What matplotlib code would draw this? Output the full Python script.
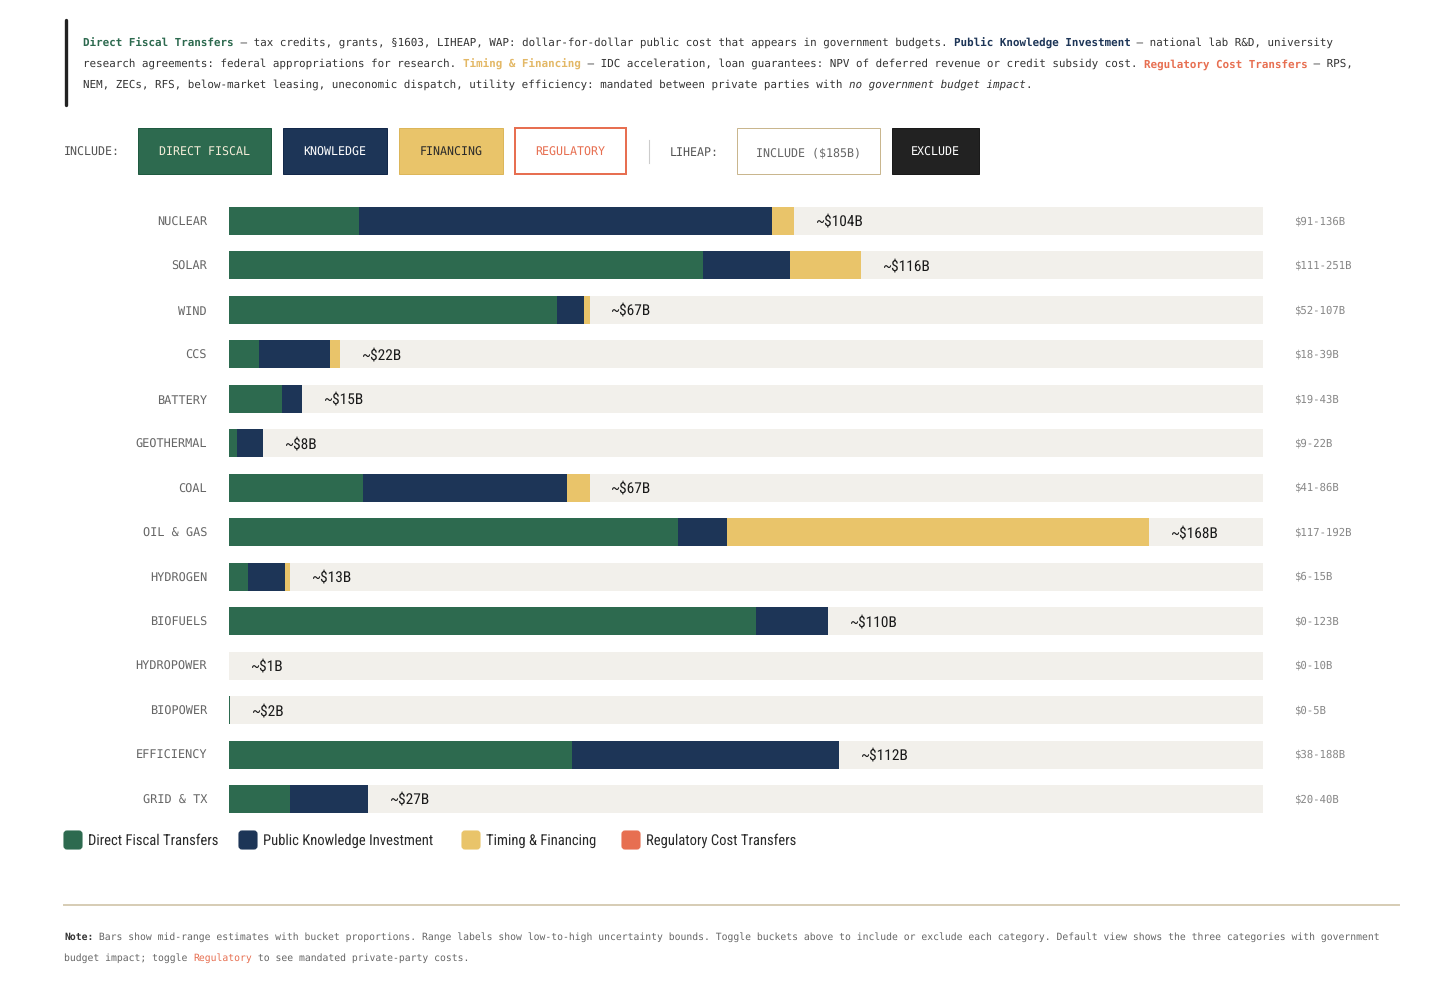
import matplotlib
matplotlib.use("Agg")
import matplotlib.pyplot as plt
from matplotlib import font_manager
from matplotlib.font_manager import FontProperties
from matplotlib.transforms import Affine2D, blended_transform_factory
from matplotlib.patches import Rectangle, FancyBboxPatch
from matplotlib.lines import Line2D

plt.rcParams['text.parse_math'] = False
plt.rcParams['text.hinting'] = 'no_hinting'

# ---------------- data ----------------
categories = ["NUCLEAR", "SOLAR", "WIND", "CCS", "BATTERY", "GEOTHERMAL", "COAL",
              "OIL & GAS", "HYDROGEN", "BIOFUELS", "HYDROPOWER", "BIOPOWER",
              "EFFICIENCY", "GRID & TX"]
direct_fiscal = [25.4, 87.4, 61.1, 7.3, 11.5, 3.4, 26.1, 83.0, 5.3, 97.1, 1.0, 2.0, 63.8, 13.0]
knowledge     = [74.6, 15.8, 4.9, 12.8, 3.5, 4.6, 36.8, 8.8, 6.7, 12.9, 0.0, 0.0, 48.2, 14.0]
financing     = [4.0, 12.8, 1.0, 1.9, 0.0, 0.0, 4.1, 76.2, 1.0, 0.0, 0.0, 0.0, 0.0, 0.0]
range_labels = ["$91-136B", "$111-251B", "$52-107B", "$18-39B", "$19-43B", "$9-22B",
                "$41-86B", "$117-192B", "$6-15B", "$0-123B", "$0-10B", "$0-5B",
                "$38-188B", "$20-40B"]
bucket_names = ["Direct Fiscal Transfers", "Public Knowledge Investment",
                "Timing & Financing", "Regulatory Cost Transfers"]

GREEN, NAVY, YELLOW, ORANGE = "#2d6a4f", "#1d3557", "#e9c46a", "#e76f51"
TRACK = "#f2f0eb"

# ---------------- fonts ----------------
names = {f.name for f in font_manager.fontManager.ttflist}
COND = None
for cand in ["Liberation Sans Narrow", "Roboto Condensed", "Open Sans Condensed", "Roboto"]:
    if cand in names:
        COND = cand
        break
if COND is None:
    COND = "DejaVu Sans"
MONO = "DejaVu Sans Mono"

W, H, DPI = 1456, 990, 100
fig = plt.figure(figsize=(W / DPI, H / DPI), dpi=DPI, facecolor="white")
P = Affine2D().scale(1 / DPI, -1 / DPI).translate(0, H / DPI) + fig.dpi_scale_trans
renderer = fig.canvas.get_renderer()


def mono_adv(size, weight="normal"):
    fp = FontProperties(family=MONO, size=size, weight=weight)
    w1 = renderer.get_text_width_height_descent("M" * 100, fp, ismath=False)[0]
    w2 = renderer.get_text_width_height_descent("M" * 200, fp, ismath=False)[0]
    return (w2 - w1) / 100.0


def pick_size(target_adv, lo, hi):
    best, bd = lo, 1e9
    s = lo
    while s <= hi + 1e-9:
        d = abs(mono_adv(s) - target_adv)
        if d < bd:
            best, bd = s, d
        s += 0.02
    return best


def runs(x, y, parts, size):
    adv = mono_adv(size)
    base = y + 0.36 * size * DPI / 72.0
    for text, color, weight, style in parts:
        dy = 0.8 if weight == "bold" else 0.0
        fig.text(x, base + dy, text, transform=P, fontsize=size, color=color, weight=weight,
                 style=style, family=MONO, va="baseline", ha="left")
        x += len(text) * adv


# ---------------- header ----------------
fig.add_artist(Line2D([66, 66], [20, 105], transform=P, color="#222222", lw=2.4,
                      solid_capstyle="round"))
HS = pick_size(6.54, 7.4, 8.5)
BODY = "#333333"
runs(83, 42, [
    ("Direct Fiscal Transfers", GREEN, "bold", "normal"),
    (" — tax credits, grants, §1603, LIHEAP, WAP: dollar-for-dollar public cost that appears in government budgets. ", BODY, "normal", "normal"),
    ("Public Knowledge Investment", NAVY, "bold", "normal"),
    (" — national lab R&D, university", BODY, "normal", "normal"),
], HS)
runs(83, 63, [
    ("research agreements: federal appropriations for research. ", BODY, "normal", "normal"),
    ("Timing & Financing", "#e3b866", "bold", "normal"),
    (" — IDC acceleration, loan guarantees: NPV of deferred revenue or credit subsidy cost. ", BODY, "normal", "normal"),
    ("Regulatory Cost Transfers", ORANGE, "bold", "normal"),
    (" — RPS,", BODY, "normal", "normal"),
], HS)
runs(83, 84, [
    ("NEM, ZECs, RFS, below-market leasing, uneconomic dispatch, utility efficiency: mandated between private parties with ", BODY, "normal", "normal"),
    ("no government budget impact", BODY, "normal", "italic"),
    (".", BODY, "normal", "normal"),
], HS)

# ---------------- toggle buttons ----------------
BS = 8.4
TY = 152.8
fig.text(64, TY, "INCLUDE:", transform=P, fontsize=BS, family=MONO, color="#555555",
         va="center", ha="left")
buttons = [
    (138, 271, "DIRECT FISCAL", GREEN, "#1f5a40", "#f3ecd8", 1.0),
    (283, 387, "KNOWLEDGE", NAVY, "#13284a", "#ffffff", 1.0),
    (399, 503, "FINANCING", YELLOW, "#dcb65a", "#2a2a2a", 1.0),
    (515, 626, "REGULATORY", "#ffffff", ORANGE, ORANGE, 2.0),
    (737, 880, "INCLUDE ($185B)", "#ffffff", "#c9b68e", "#666666", 1.0),
    (892, 979, "EXCLUDE", "#222222", "#1a1a1a", "#ffffff", 1.0),
]
for x0, x1, label, fc, ec, tc, lw in buttons:
    fig.add_artist(Rectangle((x0, 128), x1 - x0, 46, transform=P, facecolor=fc,
                             edgecolor=ec, linewidth=lw * 0.72))
    fig.text((x0 + x1) / 2, TY, label, transform=P, fontsize=BS, family=MONO,
             color=tc, va="center", ha="center")
fig.add_artist(Line2D([649, 649], [140, 163], transform=P, color="#cccccc", lw=0.8))
fig.text(670, TY, "LIHEAP:", transform=P, fontsize=BS, family=MONO, color="#555555",
         va="center", ha="left")

# ---------------- bars ----------------
n = len(categories)
row_top, row_bot = 221.0, 799.0
step = (row_bot - row_top) / (n - 1)
ax_top = row_top - step / 2
ax_bot = row_bot + step / 2
ax = fig.add_axes([229 / W, 1 - ax_bot / H, (1263 - 229) / W, (ax_bot - ax_top) / H])
ax.set_axis_off()
x0, x1 = 1.9, 188.6
ax.set_xlim(x0, x1)
ax.set_ylim(n - 0.5, -0.5)
ys = list(range(n))
bh = 0.63
ax.barh(ys, [x1 - x0] * n, left=x0, height=bh, color=TRACK, zorder=0)
left = [0.0] * n
for vals, col in [(direct_fiscal, GREEN), (knowledge, NAVY), (financing, YELLOW)]:
    ax.barh(ys, vals, left=left, height=bh, color=col, zorder=2, linewidth=0)
    left = [l + v for l, v in zip(left, vals)]

for i, tot in enumerate(left):
    ax.annotate(f"~${round(tot):d}B", xy=(max(tot, x0), i), xytext=(21, -0.8),
                textcoords="offset pixels", va="center", ha="left",
                fontsize=11.1, family=COND, color="#1a1a1a", zorder=3,
                annotation_clip=False)

tr_cat = blended_transform_factory(fig.transFigure, ax.transData)
for i, (c, r) in enumerate(zip(categories, range_labels)):
    ax.text(207 / W, i + 0.03, c, transform=tr_cat, ha="right", va="center", fontsize=8.6,
            family=MONO, color="#666666")
    ax.text(1294 / W, i, r, transform=tr_cat, ha="left", va="center", fontsize=7.7,
            family=MONO, color="#888888")

# ---------------- legend ----------------
leg_x = [64, 239, 462, 622]
for xx, name, col in zip(leg_x, bucket_names, [GREEN, NAVY, YELLOW, ORANGE]):
    fig.add_artist(FancyBboxPatch((xx, 831), 18, 18, boxstyle="round,pad=0,rounding_size=3",
                                  transform=P, facecolor=col, edgecolor=col,
                                  linewidth=0.8))
    fig.text(xx + 24, 840.5, name, transform=P, fontsize=10.5, family=COND,
             color="#2a2a2a", va="center", ha="left")

# ---------------- footnote ----------------
fig.add_artist(Line2D([64, 1399], [905, 905], transform=P, color="#d6ccb4", lw=1.4))
FS = pick_size(5.89, 6.6, 7.6)
GRAY = "#666666"
runs(64, 936, [
    ("Note:", "#333333", "bold", "normal"),
    (" Bars show mid-range estimates with bucket proportions. Range labels show low-to-high uncertainty bounds. Toggle buckets above to include or exclude each category. Default view shows the three categories with government", GRAY, "normal", "normal"),
], FS)
runs(64, 957, [
    ("budget impact; toggle ", GRAY, "normal", "normal"),
    ("Regulatory", ORANGE, "normal", "normal"),
    (" to see mandated private-party costs.", GRAY, "normal", "normal"),
], FS)

fig.savefig("out.png", dpi=DPI, facecolor="white")
